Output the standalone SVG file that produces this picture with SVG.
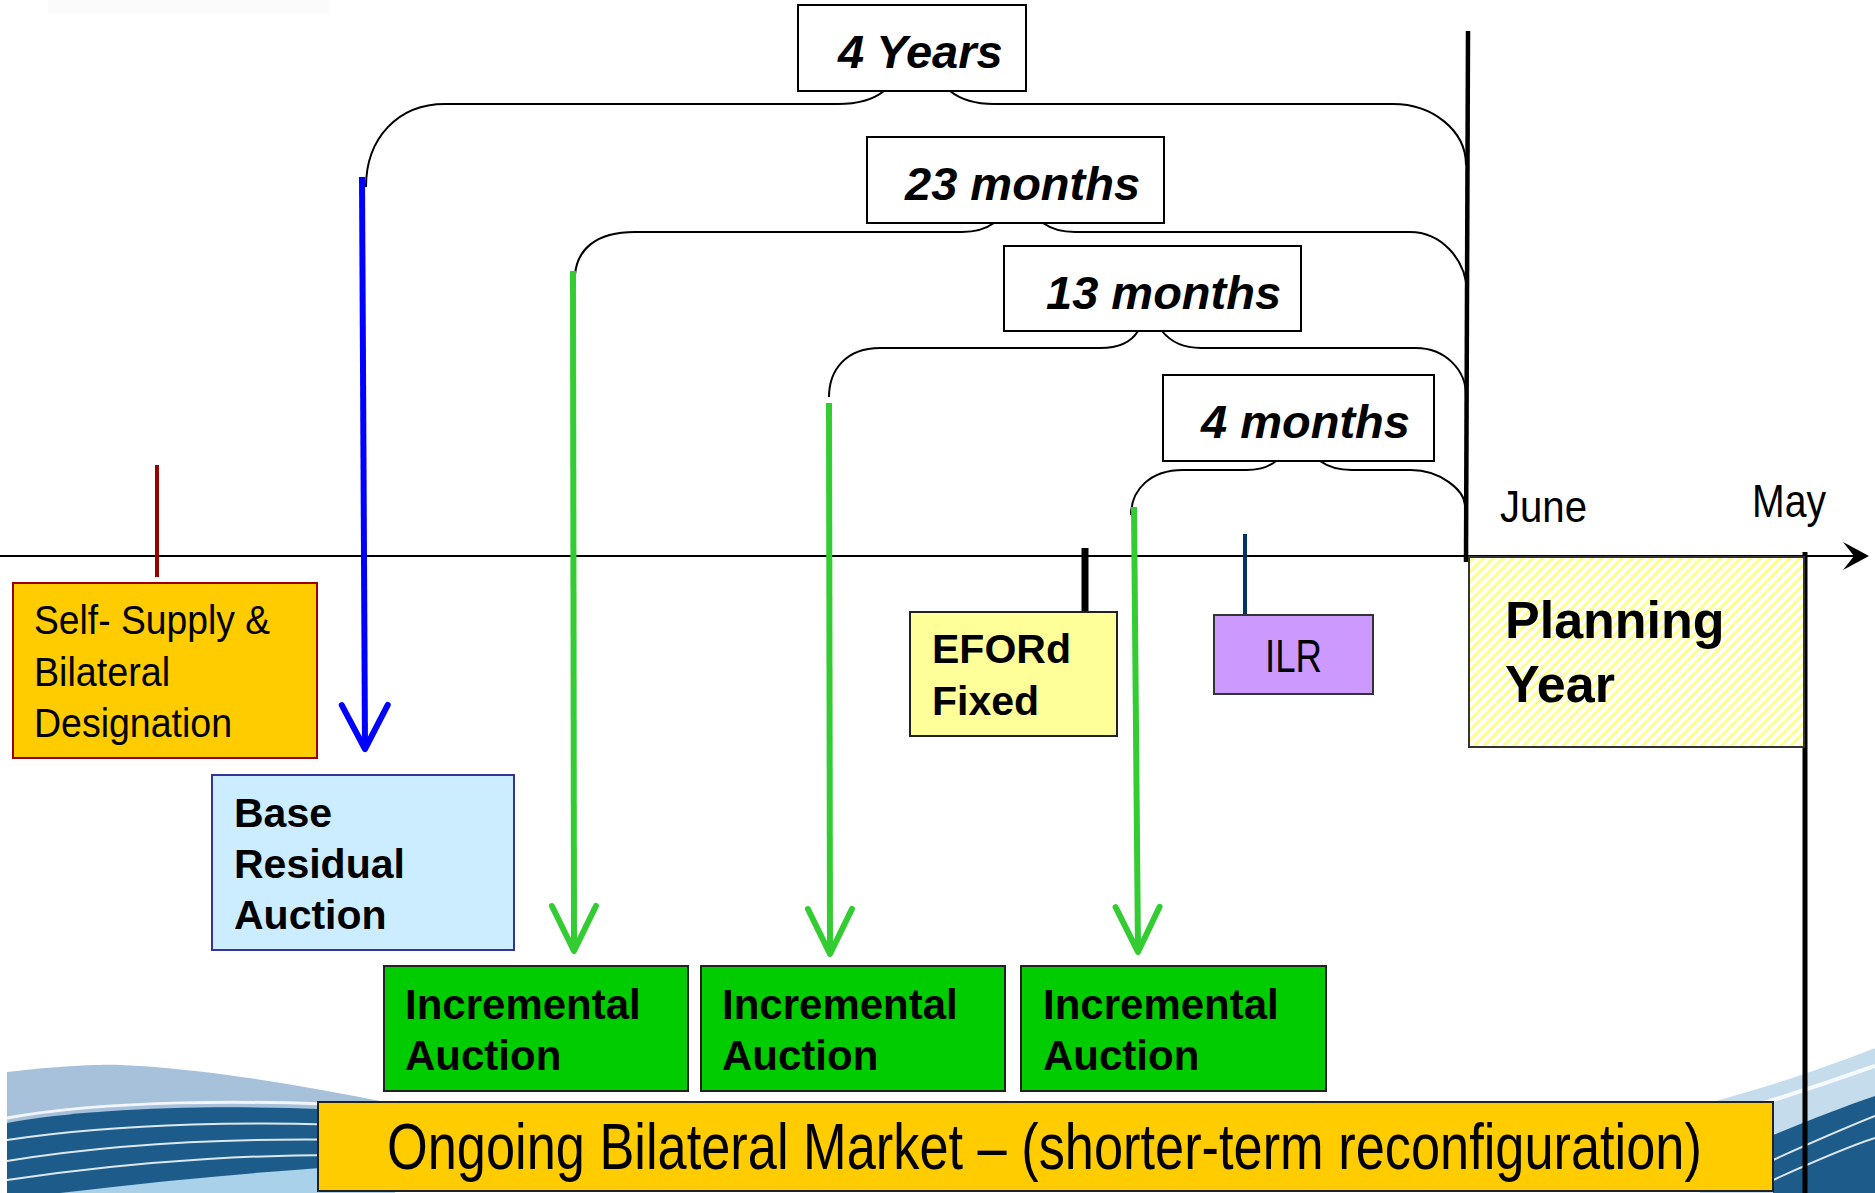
<svg xmlns="http://www.w3.org/2000/svg" width="1875" height="1193" viewBox="0 0 1875 1193">
<style>
  .t{font-family:"Liberation Sans",Arial,sans-serif;fill:#000}
  .bi{font-weight:bold;font-style:italic;font-size:47px}
  .b{font-weight:bold}
  .lbl{fill:#fff;stroke:#000;stroke-width:2}
  .brace{fill:none;stroke:#000;stroke-width:2}
  .streak{fill:none;stroke:#fff;stroke-opacity:0.85}
</style>
<defs>
  <pattern id="hatch" width="7" height="7" patternUnits="userSpaceOnUse" patternTransform="rotate(45)">
    <rect width="7" height="7" fill="#fff"/>
    <rect width="3" height="7" fill="#FFFF8C"/>
  </pattern>
  <marker id="vBlue" markerUnits="userSpaceOnUse" markerWidth="60" markerHeight="60" viewBox="-50 -30 60 60" refX="0" refY="0" orient="auto">
    <path d="M-44,-23 L0,0 L-44,23" fill="none" stroke="#0000FF" stroke-width="6" stroke-linecap="round" stroke-linejoin="round"/>
  </marker>
  <marker id="vGreen" markerUnits="userSpaceOnUse" markerWidth="60" markerHeight="60" viewBox="-50 -30 60 60" refX="0" refY="0" orient="auto">
    <path d="M-45,-22 L0,0 L-45,22" fill="none" stroke="#33CC33" stroke-width="6" stroke-linecap="round" stroke-linejoin="round"/>
  </marker>
</defs>

<rect width="1875" height="1193" fill="#fff"/>

<g id="background">
  <rect x="48" y="0" width="281" height="14" fill="#fbfbfb"/>
  <!-- bottom-left wave -->
  <path d="M7,1072 C50,1067 95,1064 120,1065 C200,1068 300,1085 395,1104 L395,1193 L7,1193 Z" fill="#A7C1DA"/>
  <path d="M7,1123 C100,1106 250,1103 395,1113 L395,1193 L7,1193 Z" fill="#1D5C8A"/>
  <path class="streak" stroke-width="3" d="M7,1118 C100,1101 250,1098 395,1108"/>
  <path class="streak" stroke-width="2" d="M7,1140 C120,1123 260,1120 395,1127"/>
  <path class="streak" stroke-width="2" d="M7,1161 C130,1141 270,1137 395,1141"/>
  <path class="streak" stroke-width="2" d="M7,1180 C140,1160 280,1152 395,1156"/>
  <path d="M60,1193 C200,1176 320,1167 395,1164 L395,1193 Z" fill="#A9D1EA"/>
  <!-- bottom-right wave -->
  <path d="M1700,1105 C1760,1090 1830,1066 1875,1048 L1875,1193 L1700,1193 Z" fill="#C5DCEC"/>
  <path class="streak" stroke-width="4" d="M1700,1122 C1770,1102 1830,1082 1875,1066"/>
  <path d="M1773,1135 C1810,1120 1845,1106 1875,1096 L1875,1193 L1773,1193 Z" fill="#1D5C8A"/>
  <path class="streak" stroke-width="2" d="M1773,1160 C1815,1141 1850,1126 1875,1116"/>
  <path class="streak" stroke-width="2" d="M1773,1180 C1815,1161 1850,1146 1875,1138"/>
</g>

<g id="connectors">
  <!-- timeline -->
  <line x1="0" y1="556" x2="1858" y2="556" stroke="#000" stroke-width="2"/>
  <path d="M1869,556 L1843,542 L1854,556 L1843,570 Z" fill="#000"/>
  <!-- June line -->
  <line x1="1468" y1="31" x2="1466" y2="562" stroke="#000" stroke-width="4.5"/>
  <!-- May line -->
  <line x1="1805" y1="552" x2="1805" y2="1193" stroke="#000" stroke-width="5"/>
  <!-- ticks -->
  <line x1="157" y1="465" x2="157" y2="577" stroke="#990000" stroke-width="4"/>
  <line x1="1085" y1="548" x2="1085" y2="612" stroke="#000" stroke-width="7"/>
  <line x1="1245" y1="534" x2="1245" y2="614" stroke="#003366" stroke-width="4"/>
  <!-- braces -->
  <path class="brace" d="M366,187 C366,138 398,104 445,104 L838,104 C860,104 874,99 884,91 L916,70 L950,91 C960,99 974,104 994,104 L1393,104 C1432,104 1466,130 1466,165"/>
  <path class="brace" d="M575,275 C577,250 595,232 635,232 L962,232 C977,232 987,228 994,223 L1018,205 L1043,223 C1050,228 1060,232 1075,232 L1410,232 C1440,232 1466,258 1467,292"/>
  <path class="brace" d="M829,397 C829,370 846,348 880,348 L1100,348 C1120,348 1132,341 1138,331 L1150,315 L1162,331 C1170,341 1182,348 1201,348 L1416,348 C1445,348 1466,370 1466,395"/>
  <path class="brace" d="M1131,515 C1131,490 1150,470 1183,470 L1246,470 C1260,470 1270,466 1276,461 L1298,445 L1320,461 C1327,466 1337,470 1352,470 L1411,470 C1440,470 1464,490 1465,505"/>
  <!-- arrows -->
  <line x1="362" y1="177" x2="365" y2="749" stroke="#0000FF" stroke-width="6" marker-end="url(#vBlue)"/>
  <line x1="573" y1="271" x2="574" y2="951" stroke="#33CC33" stroke-width="6" marker-end="url(#vGreen)"/>
  <line x1="829" y1="403" x2="830" y2="954" stroke="#33CC33" stroke-width="6" marker-end="url(#vGreen)"/>
  <line x1="1134" y1="507" x2="1138" y2="952" stroke="#33CC33" stroke-width="6" marker-end="url(#vGreen)"/>
</g>

<g id="label-4years">
  <rect class="lbl" x="798" y="5" width="228" height="86"/>
  <text class="t bi" x="838" y="68">4 Years</text>
</g>
<g id="label-23months">
  <rect class="lbl" x="867" y="137" width="297" height="86"/>
  <text class="t bi" x="905" y="200">23 months</text>
</g>
<g id="label-13months">
  <rect class="lbl" x="1004" y="246" width="297" height="85"/>
  <text class="t bi" x="1046" y="309">13 months</text>
</g>
<g id="label-4months">
  <rect class="lbl" x="1163" y="375" width="271" height="86"/>
  <text class="t bi" x="1201" y="438">4 months</text>
</g>

<g id="june-label">
  <text class="t" x="1500" y="522" font-size="45" textLength="87" lengthAdjust="spacingAndGlyphs">June</text>
</g>
<g id="may-label">
  <text class="t" x="1752" y="517" font-size="46" textLength="74" lengthAdjust="spacingAndGlyphs">May</text>
</g>

<g id="self-supply">
  <rect x="13" y="583" width="304" height="175" fill="#FFCC00" stroke="#990000" stroke-width="2"/>
  <text class="t" font-size="40">
    <tspan x="34" y="634" textLength="236" lengthAdjust="spacingAndGlyphs">Self- Supply &amp;</tspan>
    <tspan x="34" y="686" textLength="136" lengthAdjust="spacingAndGlyphs">Bilateral</tspan>
    <tspan x="34" y="737" textLength="198" lengthAdjust="spacingAndGlyphs">Designation</tspan>
  </text>
</g>

<g id="base-residual">
  <rect x="212" y="775" width="302" height="175" fill="#CCECFF" stroke="#333399" stroke-width="2"/>
  <text class="t b" font-size="41">
    <tspan x="234" y="827">Base</tspan>
    <tspan x="234" y="878">Residual</tspan>
    <tspan x="234" y="929">Auction</tspan>
  </text>
</g>

<g id="eford">
  <rect x="910" y="612" width="207" height="124" fill="#FFFF99" stroke="#222" stroke-width="2"/>
  <text class="t b" font-size="41">
    <tspan x="932" y="663">EFORd</tspan>
    <tspan x="932" y="715">Fixed</tspan>
  </text>
</g>

<g id="ilr">
  <rect x="1214" y="615" width="159" height="79" fill="#CC99FF" stroke="#333" stroke-width="2"/>
  <text class="t" x="1265" y="672" font-size="46" textLength="57" lengthAdjust="spacingAndGlyphs">ILR</text>
</g>

<g id="planning-year">
  <rect x="1469" y="557" width="335" height="190" fill="url(#hatch)" stroke="#333" stroke-width="2"/>
  <text class="t b" font-size="52">
    <tspan x="1505" y="638">Planning</tspan>
    <tspan x="1505" y="702">Year</tspan>
  </text>
</g>

<g id="incremental-1">
  <rect x="384" y="966" width="304" height="125" fill="#00CC00" stroke="#222" stroke-width="2"/>
  <text class="t b" font-size="42"><tspan x="405" y="1019">Incremental</tspan><tspan x="405" y="1070">Auction</tspan></text>
</g>
<g id="incremental-2">
  <rect x="701" y="966" width="304" height="125" fill="#00CC00" stroke="#222" stroke-width="2"/>
  <text class="t b" font-size="42"><tspan x="722" y="1019">Incremental</tspan><tspan x="722" y="1070">Auction</tspan></text>
</g>
<g id="incremental-3">
  <rect x="1021" y="966" width="305" height="125" fill="#00CC00" stroke="#222" stroke-width="2"/>
  <text class="t b" font-size="42"><tspan x="1043" y="1019">Incremental</tspan><tspan x="1043" y="1070">Auction</tspan></text>
</g>

<g id="ongoing-bilateral">
  <rect x="318" y="1102" width="1455" height="89" fill="#FFCC00" stroke="#222" stroke-width="2"/>
  <text class="t" transform="translate(387 1169) scale(0.8055 1)" x="0" y="0" font-size="65">Ongoing Bilateral Market – (shorter-term reconfiguration)</text>
</g>
</svg>
